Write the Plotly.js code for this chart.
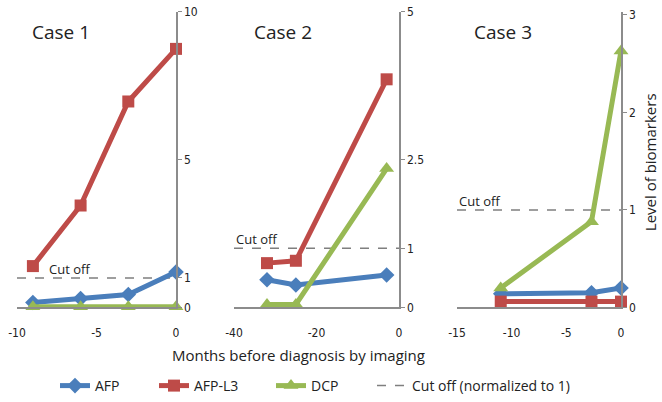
<!DOCTYPE html>
<html>
<head>
<meta charset="utf-8">
<script src="https://cdn.plot.ly/plotly-3.0.1.min.js"></script>
<style>html,body{margin:0;padding:0;background:#fff;}#chart{width:662px;height:402px;}</style>
</head>
<body>
<div id="chart"></div>
<script>
// ---- Data ----
const seriesNames = ["AFP", "AFP-L3", "DCP"];
const cutoffName = "Cut off (normalized to 1)";
const cutoff = 1;

const case1_x = [-9, -6, -3, 0];
const case1_afp = [0.17, 0.30, 0.44, 1.20];
const case1_afpl3 = [1.40, 3.45, 6.97, 8.75];
const case1_dcp = [0.02, 0.02, 0.02, 0.02];

const case2_x = [-32, -25, -3];
const case2_afp = [0.47, 0.38, 0.55];
const case2_afpl3 = [0.75, 0.79, 3.86];
const case2_dcp = [0.05, 0.05, 2.35];

const case3_x = [-11, -2.7, 0];
const case3_afp = [0.14, 0.15, 0.20];
const case3_afpl3 = [0.06, 0.06, 0.06];
const case3_dcp = [0.20, 0.88, 2.63];

const caseTitles = ["Case 1", "Case 2", "Case 3"];
const xRanges = [[-10, 0], [-40, 0], [-15, 0]];
const yRanges = [[0, 10], [0, 5], [0, 3.03]];
const xTicks = [[-10, -5, 0], [-40, -20, 0], [-15, -10, -5, 0]];
const yTicks = [[0, 1, 5, 10], [0, 1, 2.5, 5], [0, 1, 2, 3]];

// ---- Styles ----
const colors = ["#4A7EBB", "#BE4B48", "#98B954"];
const symbols = ["diamond", "square", "triangle-up"];
const msizes = [12, 12, 13];
const tickFont = {family: "Liberation Sans Narrow, DejaVu Sans Condensed, sans-serif", size: 12, color: "#222"};
const mainFont = "Open Sans, Lato, sans-serif";
const legendNames = ["legend", "legend2", "legend3"];

const cases = [
  {x: case1_x, ys: [case1_afp, case1_afpl3, case1_dcp]},
  {x: case2_x, ys: [case2_afp, case2_afpl3, case2_dcp]},
  {x: case3_x, ys: [case3_afp, case3_afpl3, case3_dcp]}
];

const traces = [];
cases.forEach((c, ci) => {
  const xa = ci === 0 ? "x" : "x" + (ci + 1);
  const ya = ci === 0 ? "y" : "y" + (ci + 1);
  traces.push({
    x: [xRanges[ci][0], xRanges[ci][1]], y: [cutoff, cutoff],
    xaxis: xa, yaxis: ya, mode: "lines", name: cutoffName,
    line: {color: "#7f7f7f", width: 1.5, dash: "dash"},
    showlegend: ci === 0, legend: "legend4", hoverinfo: "skip"
  });
});
cases.forEach((c, ci) => {
  const xa = ci === 0 ? "x" : "x" + (ci + 1);
  const ya = ci === 0 ? "y" : "y" + (ci + 1);
  c.ys.forEach((yv, si) => {
    traces.push({
      x: c.x, y: yv, xaxis: xa, yaxis: ya,
      mode: "lines+markers", name: seriesNames[si],
      line: {color: colors[si], width: 5},
      marker: {symbol: symbols[si], size: msizes[si], color: colors[si]},
      cliponaxis: false,
      showlegend: ci === 0, legend: legendNames[si]
    });
  });
});

const W = 662, H = 402;
const xDomPx = [[17, 176], [234, 399], [457, 621]];
const yDom = [(H - 309) / H, (H - 12) / H];
const legendXpx = [55, 154, 271, 372];

const layout = {
  width: W, height: H,
  margin: {l: 0, r: 0, t: 0, b: 0},
  paper_bgcolor: "#fff", plot_bgcolor: "rgba(0,0,0,0)",
  showlegend: true,
  annotations: [],
  font: {family: mainFont}
};
["legend", "legend2", "legend3", "legend4"].forEach((ln, i) => {
  layout[ln] = {
    orientation: "h", x: legendXpx[i] / W, y: (H - 388) / H,
    xanchor: "left", yanchor: "middle",
    font: {family: mainFont, size: 14, color: "#222"},
    bgcolor: "rgba(0,0,0,0)"
  };
});

for (let i = 0; i < 3; i++) {
  const sfx = i === 0 ? "" : String(i + 1);
  layout["xaxis" + sfx] = {
    domain: [xDomPx[i][0] / W, xDomPx[i][1] / W],
    range: xRanges[i], anchor: "y" + sfx,
    showline: true, linecolor: "#8c8c8c", linewidth: 1.5,
    showgrid: false, zeroline: false, ticks: "",
    tickvals: xTicks[i], ticktext: xTicks[i].map(String),
    tickfont: tickFont, ticklabelstandoff: 14, fixedrange: true
  };
  layout["yaxis" + sfx] = {
    domain: yDom, range: yRanges[i], anchor: "x" + sfx, side: "right",
    showline: true, linecolor: "#8c8c8c", linewidth: 1.5,
    showgrid: false, zeroline: false, ticks: "outside", ticklen: 4, tickcolor: "#8c8c8c",
    tickvals: yTicks[i], ticktext: yTicks[i].map(String),
    tickfont: tickFont, fixedrange: true
  };
  layout.annotations.push({
    xref: "x" + sfx + " domain", yref: "paper",
    x: [0.08, 0.11, 0.09][i], y: (H - 32) / H, xanchor: "left", yanchor: "middle",
    text: caseTitles[i], showarrow: false,
    font: {family: mainFont, size: 19, color: "#222"}
  });
  layout.annotations.push({
    xref: "x" + sfx, yref: "y" + sfx,
    x: [-8.1, -40, -15][i], y: cutoff, xanchor: "left", yanchor: "bottom",
    text: "Cut off", showarrow: false, yshift: -2,
    font: {family: mainFont, size: 13, color: "#222"}
  });
}
layout.annotations.push({
  xref: "paper", yref: "paper", x: 298 / W, y: (H - 357) / H,
  text: "Months before diagnosis by imaging", showarrow: false,
  xanchor: "center", yanchor: "middle",
  font: {family: mainFont, size: 15, color: "#222"}
});
layout.annotations.push({
  xref: "paper", yref: "paper", x: 650 / W, y: (H - 163) / H,
  text: "Level of biomarkers", showarrow: false, textangle: -90,
  xanchor: "center", yanchor: "middle",
  font: {family: mainFont, size: 15, color: "#222"}
});

Plotly.newPlot("chart", traces, layout, {displayModeBar: false, staticPlot: true});
</script>
</body>
</html>
